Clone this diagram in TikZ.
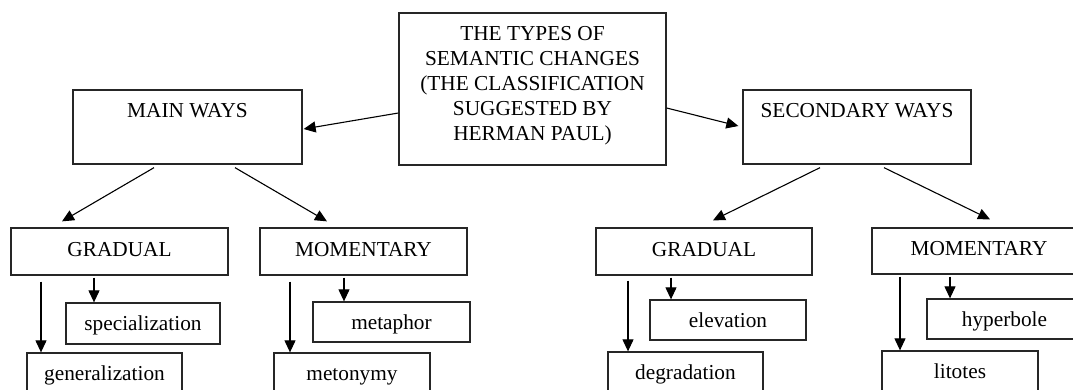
\documentclass[tikz,border=0pt]{standalone}
\usepackage{fontspec}
\setmainfont{Liberation Serif}
\usetikzlibrary{arrows.meta,calc}
\begin{document}
\begin{tikzpicture}[x=1pt,y=-1pt,
  txt/.style={font=\fontsize{21.3}{25}\selectfont,align=center},
  box/.style={draw=black!85,line width=1.3pt,inner sep=0pt,txt},
  midbox/.style={box,text height=9pt,text depth=0pt},
  leafbox/.style={box,text height=14pt,text depth=0pt},
  arr/.style={line width=1.1pt,-{Triangle[length=12pt,width=11pt]}}]
\useasboundingbox[fill=white] (0,0) rectangle (1073,389);
% top level
\node[box,minimum width=267pt,minimum height=152pt,
  label={[txt,anchor=center,yshift=3pt]center:THE TYPES OF\\SEMANTIC CHANGES\\(THE CLASSIFICATION\\SUGGESTED BY\\HERMAN PAUL)}] (ctr) at (532.5,89) {};
\node[box,minimum width=229pt,minimum height=74pt,
  label={[txt,anchor=center,yshift=-21pt]north:MAIN WAYS}] (main) at (187.5,127) {};
\node[box,minimum width=228pt,minimum height=74pt,
  label={[txt,anchor=center,yshift=-21pt]north:SECONDARY WAYS}] (sec) at (857,127) {};
% second level
\node[midbox,minimum width=217pt,minimum height=47pt] (gradL) at (119.5,251.5) {GRADUAL};
\node[midbox,minimum width=207pt,minimum height=47pt] (momL) at (363.5,251.5) {MOMENTARY};
\node[midbox,minimum width=216pt,minimum height=47pt] (gradR) at (704,251.5) {GRADUAL};
\node[midbox,minimum width=214pt,minimum height=46pt] (momR) at (979,251) {MOMENTARY};
% leaves
\node[leafbox,minimum width=154pt,minimum height=41pt] (spec) at (143,323.5) {specialization};
\node[leafbox,minimum width=155pt,minimum height=41pt] (gen) at (104.5,373.5) {generalization};
\node[leafbox,minimum width=157pt,minimum height=40pt] (metaph) at (391.5,322) {metaphor};
\node[leafbox,minimum width=156pt,minimum height=40pt] (meton) at (352,373) {metonymy};
\node[leafbox,minimum width=156pt,minimum height=40pt] (elev) at (728,320) {elevation};
\node[leafbox,minimum width=155pt,minimum height=40pt] (degr) at (685.5,372) {degradation};
\node[leafbox,minimum width=155pt,minimum height=40pt] (hyper) at (1004.5,319) {hyperbole};
\node[leafbox,minimum width=156pt,minimum height=40pt] (lit) at (960,371) {litotes};
% connectors
\draw[arr] ([yshift=-24pt]ctr.west) -- ([yshift=-2pt,xshift=1pt]main.east);
\draw[arr] ([yshift=-19pt]ctr.east) -- ([yshift=1pt,xshift=-4pt]sec.west);
\draw[arr] ([xshift=-33.5pt,yshift=-3pt]main.south) -- ([xshift=-57.5pt,yshift=6pt]gradL.north);
\draw[arr] ([xshift=47.5pt,yshift=-3pt]main.south) -- ([xshift=-36.5pt,yshift=6pt]momL.north);
\draw[arr] ([xshift=-37pt,yshift=-3pt]sec.south) -- ([xshift=9pt,yshift=7pt]gradR.north);
\draw[arr] ([xshift=27pt,yshift=-3pt]sec.south) -- ([xshift=11pt,yshift=8pt]momR.north);
\draw[arr] ([xshift=-78.5pt,yshift=-6pt]gradL.south) -- ([xshift=-63.5pt]gen.north);
\draw[arr] ([xshift=-25.5pt,yshift=-2pt]gradL.south) -- ([xshift=-49pt]spec.north);
\draw[arr] ([xshift=-73.5pt,yshift=-6pt]momL.south) -- ([xshift=-62pt]meton.north);
\draw[arr] ([xshift=-19.5pt,yshift=-2pt]momL.south) -- ([xshift=-47.5pt]metaph.north);
\draw[arr] ([xshift=-76pt,yshift=-5pt]gradR.south) -- ([xshift=-57.5pt]degr.north);
\draw[arr] ([xshift=-33pt,yshift=-2pt]gradR.south) -- ([xshift=-57pt]elev.north);
\draw[arr] ([xshift=-79pt,yshift=-2pt]momR.south) -- ([xshift=-60pt]lit.north);
\draw[arr] ([xshift=-29pt,yshift=-2pt]momR.south) -- ([xshift=-54.5pt]hyper.north);
\end{tikzpicture}
\end{document}
